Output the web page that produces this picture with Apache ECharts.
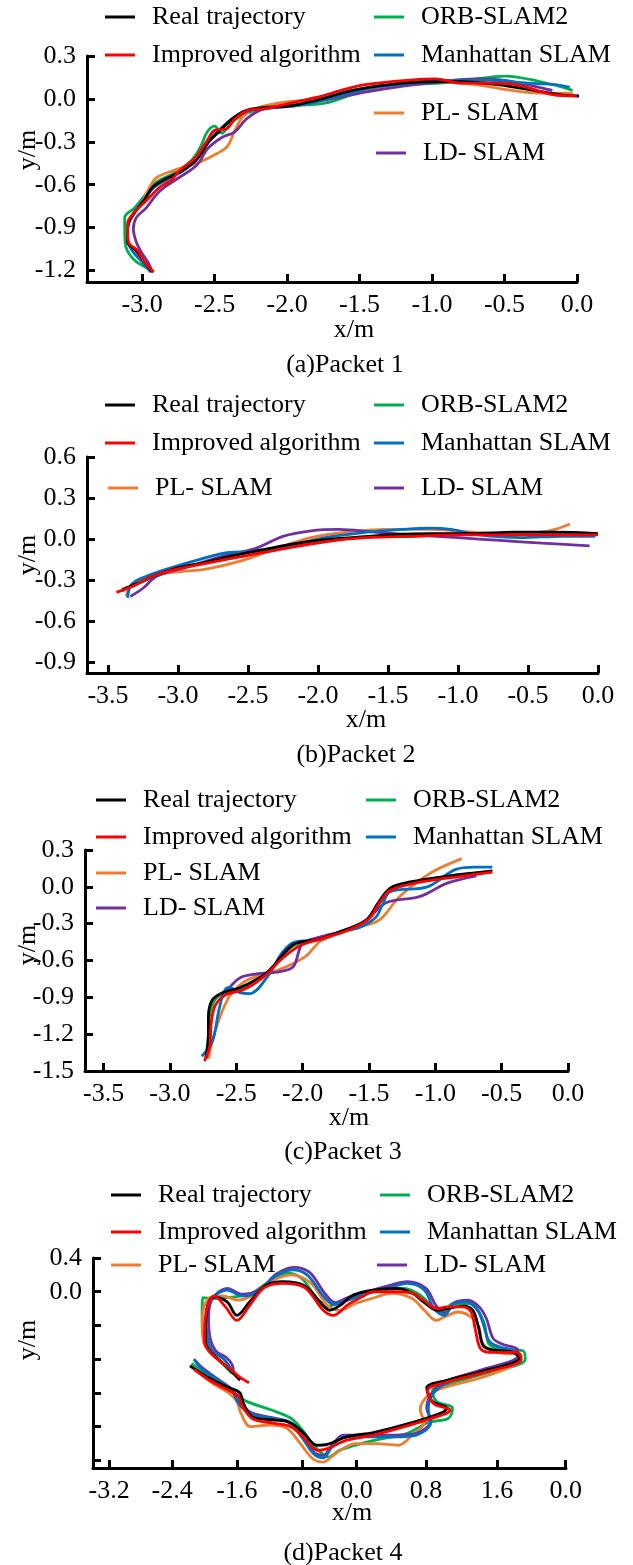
<!DOCTYPE html>
<html>
<head>
<meta charset="utf-8">
<script src="https://cdn.jsdelivr.net/npm/echarts@6.0.0/dist/echarts.min.js"></script>
<style>
  html, body { margin: 0; padding: 0; background: #fff; }
  #chart { width: 633px; height: 1565px; }
</style>
</head>
<body>
<div id="chart"></div>
<script>
// series names and colours
var seriesNames = ['Real trajectory', 'ORB-SLAM2', 'Improved algorithm', 'Manhattan SLAM', 'PL- SLAM', 'LD- SLAM'];
var seriesColors = {
  'Real trajectory': '#000000',
  'ORB-SLAM2': '#00b050',
  'Improved algorithm': '#ff0000',
  'Manhattan SLAM': '#0070c0',
  'PL- SLAM': '#ed7d31',
  'LD- SLAM': '#7030a0'
};

// ---- Packet 1 ----
var real1 = [[-2.93,-1.21],[-2.99,-1.13],[-3.04,-1.06],[-3.10,-1.00],[-3.10,-0.93],[-3.09,-0.86],[-3.04,-0.78],[-2.98,-0.70],[-2.93,-0.62],[-2.84,-0.56],[-2.72,-0.50],[-2.62,-0.42],[-2.54,-0.30],[-2.46,-0.22],[-2.38,-0.14],[-2.28,-0.08],[-2.15,-0.06],[-2.00,-0.05],[-1.80,-0.01],[-1.55,0.06],[-1.30,0.10],[-1.05,0.12],[-0.80,0.12],[-0.55,0.10],[-0.30,0.06],[-0.12,0.03],[0.02,0.02]];
var orb1 = [[-2.92,-1.21],[-2.97,-1.18],[-3.05,-1.13],[-3.11,-1.04],[-3.12,-0.92],[-3.12,-0.83],[-3.05,-0.76],[-2.97,-0.66],[-2.90,-0.58],[-2.78,-0.52],[-2.66,-0.43],[-2.60,-0.34],[-2.55,-0.23],[-2.50,-0.19],[-2.45,-0.24],[-2.38,-0.16],[-2.25,-0.09],[-2.02,-0.05],[-1.74,-0.03],[-1.46,0.06],[-1.17,0.10],[-0.95,0.11],[-0.76,0.13],[-0.50,0.16],[-0.25,0.12],[-0.03,0.06]];
var imp1 = [[-2.92,-1.21],[-2.99,-1.13],[-3.03,-1.06],[-3.09,-1.01],[-3.10,-0.94],[-3.10,-0.87],[-3.05,-0.79],[-2.97,-0.71],[-2.88,-0.62],[-2.80,-0.57],[-2.74,-0.50],[-2.63,-0.41],[-2.55,-0.29],[-2.50,-0.22],[-2.42,-0.21],[-2.36,-0.14],[-2.27,-0.08],[-2.16,-0.07],[-2.02,-0.04],[-1.80,0.01],[-1.59,0.07],[-1.46,0.10],[-1.17,0.13],[-0.98,0.14],[-0.79,0.11],[-0.61,0.11],[-0.42,0.10],[-0.17,0.03],[0.00,0.02]];
var man1 = [[-2.94,-1.21],[-3.00,-1.14],[-3.07,-1.06],[-3.10,-0.98],[-3.10,-0.90],[-3.06,-0.80],[-2.99,-0.71],[-2.92,-0.62],[-2.82,-0.56],[-2.70,-0.49],[-2.60,-0.38],[-2.52,-0.27],[-2.44,-0.19],[-2.36,-0.13],[-2.25,-0.08],[-2.10,-0.06],[-1.90,-0.04],[-1.65,0.02],[-1.40,0.08],[-1.15,0.11],[-0.90,0.13],[-0.60,0.13],[-0.34,0.11],[-0.15,0.10],[-0.05,0.08]];
var pl1 = [[-2.93,-1.21],[-2.99,-1.14],[-3.05,-1.07],[-3.10,-0.99],[-3.10,-0.90],[-3.06,-0.80],[-3.00,-0.72],[-2.95,-0.62],[-2.90,-0.55],[-2.78,-0.50],[-2.60,-0.44],[-2.48,-0.38],[-2.41,-0.33],[-2.36,-0.22],[-2.30,-0.12],[-2.20,-0.06],[-2.00,-0.02],[-1.75,0.00],[-1.50,0.05],[-1.20,0.10],[-0.95,0.12],[-0.70,0.10],[-0.45,0.06],[-0.25,0.04],[-0.03,0.04]];
var ld1 = [[-2.93,-1.21],[-2.96,-1.14],[-3.00,-1.08],[-3.04,-1.00],[-3.06,-0.91],[-3.04,-0.83],[-2.97,-0.76],[-2.91,-0.68],[-2.86,-0.63],[-2.76,-0.56],[-2.62,-0.46],[-2.55,-0.35],[-2.45,-0.27],[-2.36,-0.23],[-2.28,-0.14],[-2.16,-0.07],[-1.95,-0.05],[-1.70,0.00],[-1.45,0.05],[-1.20,0.09],[-0.95,0.12],[-0.70,0.14],[-0.50,0.13],[-0.30,0.09],[-0.17,0.06]];
var xTicks1 = [-3.0, -2.5, -2.0, -1.5, -1.0, -0.5, 0.0];
var yTicks1 = [0.3, 0.0, -0.3, -0.6, -0.9, -1.2];

// ---- Packet 2 ----
var real2 = [[-3.40,-0.37],[-3.30,-0.33],[-3.15,-0.26],[-3.00,-0.21],[-2.80,-0.17],[-2.60,-0.12],[-2.40,-0.08],[-2.20,-0.04],[-2.00,-0.01],[-1.75,0.01],[-1.50,0.03],[-1.20,0.04],[-0.90,0.04],[-0.60,0.05],[-0.30,0.05],[0.00,0.04]];
var orb2 = [[-3.40,-0.38],[-3.30,-0.33],[-3.15,-0.27],[-3.00,-0.22],[-2.80,-0.17],[-2.60,-0.12],[-2.40,-0.08],[-2.20,-0.05],[-2.00,-0.02],[-1.75,0.01],[-1.50,0.02],[-1.20,0.03],[-0.90,0.04],[-0.60,0.04],[-0.30,0.04],[-0.02,0.04]];
var imp2 = [[-3.44,-0.39],[-3.31,-0.34],[-3.20,-0.28],[-3.05,-0.23],[-2.81,-0.18],[-2.50,-0.12],[-2.24,-0.07],[-1.95,-0.02],[-1.66,0.01],[-1.30,0.02],[-1.00,0.03],[-0.60,0.03],[-0.30,0.03],[0.00,0.03]];
var man2 = [[-3.36,-0.43],[-3.33,-0.33],[-3.22,-0.27],[-3.05,-0.21],[-2.85,-0.15],[-2.65,-0.10],[-2.45,-0.09],[-2.20,-0.05],[-1.95,0.01],[-1.65,0.05],[-1.40,0.07],[-1.20,0.08],[-1.05,0.07],[-0.85,0.03],[-0.55,0.01],[-0.25,0.02],[-0.02,0.02]];
var pl2 = [[-3.37,-0.42],[-3.33,-0.33],[-3.20,-0.27],[-3.00,-0.24],[-2.80,-0.22],[-2.55,-0.16],[-2.30,-0.07],[-2.05,0.01],[-1.80,0.05],[-1.50,0.07],[-1.20,0.07],[-0.90,0.05],[-0.60,0.04],[-0.35,0.06],[-0.20,0.11]];
var ld2 = [[-3.34,-0.42],[-3.25,-0.36],[-3.15,-0.27],[-2.95,-0.21],[-2.70,-0.13],[-2.45,-0.07],[-2.25,0.02],[-2.05,0.06],[-1.85,0.07],[-1.60,0.05],[-1.30,0.03],[-1.00,0.01],[-0.70,-0.01],[-0.40,-0.03],[-0.06,-0.05]];
var xTicks2 = [-3.5, -3.0, -2.5, -2.0, -1.5, -1.0, -0.5, 0.0];
var yTicks2 = [0.6, 0.3, 0.0, -0.3, -0.6, -0.9];

// ---- Packet 3 ----
var real3 = [[-2.73,-1.40],[-2.71,-1.22],[-2.71,-1.06],[-2.68,-0.92],[-2.60,-0.86],[-2.47,-0.82],[-2.27,-0.70],[-2.07,-0.47],[-1.89,-0.43],[-1.68,-0.35],[-1.52,-0.27],[-1.43,-0.13],[-1.34,-0.01],[-1.19,0.04],[-0.89,0.09],[-0.57,0.13]];
var orb3 = [[-2.73,-1.40],[-2.71,-1.20],[-2.70,-1.04],[-2.66,-0.92],[-2.58,-0.86],[-2.45,-0.82],[-2.27,-0.70],[-2.07,-0.48],[-1.88,-0.43],[-1.67,-0.35],[-1.51,-0.27],[-1.42,-0.13],[-1.33,-0.02],[-1.15,0.04],[-0.88,0.09],[-0.58,0.12]];
var imp3 = [[-2.74,-1.42],[-2.70,-1.30],[-2.69,-1.12],[-2.66,-0.97],[-2.58,-0.88],[-2.45,-0.84],[-2.30,-0.74],[-2.15,-0.58],[-2.02,-0.48],[-1.85,-0.42],[-1.65,-0.35],[-1.50,-0.26],[-1.42,-0.13],[-1.34,-0.03],[-1.15,0.03],[-0.85,0.08],[-0.57,0.12]];
var man3 = [[-2.76,-1.38],[-2.68,-1.26],[-2.63,-1.00],[-2.59,-0.85],[-2.55,-0.82],[-2.48,-0.86],[-2.40,-0.87],[-2.27,-0.74],[-2.15,-0.53],[-2.06,-0.45],[-1.87,-0.43],[-1.70,-0.36],[-1.57,-0.33],[-1.45,-0.25],[-1.40,-0.15],[-1.34,-0.04],[-1.06,0.00],[-0.85,0.14],[-0.70,0.16],[-0.57,0.16]];
var pl3 = [[-2.71,-1.40],[-2.68,-1.25],[-2.63,-1.08],[-2.58,-0.95],[-2.53,-0.86],[-2.42,-0.76],[-2.27,-0.71],[-2.12,-0.65],[-1.97,-0.56],[-1.86,-0.44],[-1.58,-0.33],[-1.42,-0.27],[-1.27,-0.08],[-1.04,0.11],[-0.80,0.23]];
var ld3 = [[-2.57,-0.87],[-2.55,-0.82],[-2.47,-0.74],[-2.35,-0.71],[-2.17,-0.69],[-2.07,-0.65],[-2.00,-0.46],[-1.87,-0.41],[-1.67,-0.35],[-1.52,-0.27],[-1.37,-0.13],[-1.12,-0.08],[-0.91,0.03],[-0.69,0.09]];
var xTicks3 = [-3.5, -3.0, -2.5, -2.0, -1.5, -1.0, -0.5, 0.0];
var yTicks3 = [0.3, 0.0, -0.3, -0.6, -0.9, -1.2, -1.5];

// ---- Packet 4 ----
var real4 = [[-2.20,-0.88],[-1.99,-1.01],[-1.74,-1.13],[-1.58,-1.20],[-1.54,-1.32],[-1.42,-1.49],[-1.17,-1.52],[-0.96,-1.55],[-0.80,-1.67],[-0.63,-1.82],[-0.50,-1.81],[-0.26,-1.72],[0.07,-1.67],[0.56,-1.55],[0.93,-1.43],[0.98,-1.38],[0.80,-1.30],[0.73,-1.14],[0.98,-1.05],[1.39,-0.95],[1.88,-0.79],[1.80,-0.72],[1.55,-0.69],[1.43,-0.64],[1.37,-0.42],[1.30,-0.22],[1.18,-0.17],[0.98,-0.20],[0.86,-0.22],[0.69,-0.12],[0.56,-0.02],[0.36,0.04],[0.07,0.02],[-0.18,-0.04],[-0.34,-0.16],[-0.47,-0.22],[-0.59,-0.12],[-0.80,0.08],[-1.05,0.12],[-1.25,0.08],[-1.46,-0.12],[-1.62,-0.28],[-1.74,-0.12],[-1.91,-0.06],[-1.99,-0.22],[-2.01,-0.57],[-1.97,-0.69],[-1.79,-0.85],[-1.67,-0.96],[-1.58,-1.05]];
var orb4 = [[-2.18,-0.85],[-2.00,-0.98],[-1.80,-1.10],[-1.62,-1.22],[-1.50,-1.30],[-1.20,-1.40],[-0.95,-1.50],[-0.80,-1.65],[-0.65,-1.84],[-0.48,-1.96],[-0.35,-1.88],[-0.15,-1.82],[0.00,-1.78],[0.20,-1.74],[0.49,-1.68],[0.75,-1.55],[1.00,-1.50],[1.05,-1.38],[0.85,-1.30],[0.80,-1.18],[1.05,-1.08],[1.45,-0.97],[1.95,-0.80],[1.92,-0.70],[1.65,-0.68],[1.50,-0.62],[1.45,-0.40],[1.38,-0.25],[1.25,-0.14],[1.05,-0.14],[0.93,-0.26],[0.80,-0.18],[0.65,-0.04],[0.45,0.04],[0.15,0.02],[-0.15,-0.05],[-0.35,-0.13],[-0.52,-0.18],[-0.65,-0.05],[-0.82,0.16],[-1.00,0.22],[-1.25,0.10],[-1.46,-0.03],[-1.65,-0.06],[-1.90,-0.08],[-2.04,-0.07],[-2.05,-0.30],[-2.02,-0.55],[-1.95,-0.70],[-1.80,-0.85],[-1.68,-0.97]];
var imp4 = [[-2.15,-0.92],[-1.97,-1.04],[-1.74,-1.16],[-1.60,-1.24],[-1.55,-1.36],[-1.42,-1.51],[-1.15,-1.56],[-0.95,-1.60],[-0.80,-1.72],[-0.62,-1.88],[-0.50,-1.86],[-0.26,-1.76],[0.07,-1.70],[0.56,-1.57],[0.98,-1.44],[1.02,-1.40],[0.82,-1.33],[0.74,-1.17],[0.98,-1.07],[1.39,-0.97],[1.90,-0.80],[1.85,-0.72],[1.55,-0.72],[1.40,-0.68],[1.33,-0.44],[1.28,-0.24],[1.17,-0.18],[0.98,-0.18],[0.86,-0.20],[0.69,-0.10],[0.56,-0.02],[0.40,0.00],[0.07,0.00],[-0.05,-0.05],[-0.24,-0.15],[-0.43,-0.28],[-0.55,-0.22],[-0.78,0.05],[-1.05,0.10],[-1.28,0.05],[-1.46,-0.16],[-1.62,-0.34],[-1.76,-0.18],[-1.90,-0.05],[-2.00,-0.25],[-2.02,-0.58],[-1.95,-0.72],[-1.75,-0.88],[-1.60,-1.00],[-1.47,-1.08]];
var man4 = [[-2.15,-0.80],[-2.05,-0.92],[-1.85,-1.05],[-1.68,-1.17],[-1.60,-1.32],[-1.45,-1.45],[-1.20,-1.50],[-0.98,-1.55],[-0.82,-1.72],[-0.67,-1.92],[-0.55,-1.97],[-0.45,-1.85],[-0.30,-1.72],[0.00,-1.72],[0.35,-1.72],[0.60,-1.70],[0.78,-1.55],[0.75,-1.40],[0.80,-1.22],[1.00,-1.07],[1.40,-0.95],[1.88,-0.78],[1.82,-0.70],[1.62,-0.65],[1.50,-0.58],[1.42,-0.35],[1.35,-0.20],[1.22,-0.12],[1.05,-0.15],[0.95,-0.28],[0.82,-0.20],[0.70,0.02],[0.49,0.10],[0.25,0.04],[0.00,-0.02],[-0.25,-0.10],[-0.42,-0.15],[-0.55,-0.05],[-0.75,0.20],[-0.93,0.26],[-1.15,0.18],[-1.35,0.00],[-1.55,-0.05],[-1.74,0.02],[-1.96,-0.12],[-2.00,-0.32],[-1.98,-0.56],[-1.92,-0.70],[-1.78,-0.80],[-1.70,-0.90],[-1.66,-0.98]];
var pl4 = [[-2.12,-0.93],[-1.93,-1.08],[-1.72,-1.20],[-1.62,-1.30],[-1.57,-1.44],[-1.45,-1.60],[-1.20,-1.58],[-1.00,-1.62],[-0.85,-1.78],[-0.68,-1.98],[-0.55,-2.02],[-0.40,-1.92],[-0.15,-1.80],[0.10,-1.80],[0.38,-1.82],[0.55,-1.70],[0.70,-1.55],[0.65,-1.40],[0.76,-1.22],[1.00,-1.12],[1.40,-1.02],[1.85,-0.85],[1.90,-0.75],[1.60,-0.72],[1.43,-0.62],[1.37,-0.40],[1.25,-0.28],[1.12,-0.24],[0.95,-0.30],[0.85,-0.34],[0.70,-0.22],[0.55,-0.08],[0.30,-0.02],[0.05,-0.08],[-0.15,-0.14],[-0.35,-0.22],[-0.50,-0.16],[-0.70,0.10],[-0.95,0.20],[-1.20,0.12],[-1.40,-0.03],[-1.60,-0.10],[-1.80,-0.05],[-1.97,-0.08],[-2.05,-0.35],[-2.03,-0.60],[-1.92,-0.75],[-1.75,-0.88],[-1.62,-0.98]];
var ld4 = [[-2.15,-0.80],[-2.05,-0.90],[-1.85,-1.04],[-1.68,-1.16],[-1.60,-1.30],[-1.45,-1.43],[-1.20,-1.49],[-0.98,-1.54],[-0.82,-1.70],[-0.67,-1.90],[-0.55,-1.94],[-0.45,-1.83],[-0.30,-1.70],[0.00,-1.70],[0.35,-1.70],[0.60,-1.68],[0.78,-1.53],[0.73,-1.38],[0.80,-1.20],[1.00,-1.05],[1.40,-0.93],[1.86,-0.76],[1.85,-0.68],[1.66,-0.62],[1.55,-0.55],[1.47,-0.32],[1.38,-0.18],[1.24,-0.10],[1.07,-0.13],[0.97,-0.25],[0.85,-0.17],[0.72,0.04],[0.49,0.12],[0.25,0.07],[0.00,0.00],[-0.25,-0.07],[-0.40,-0.13],[-0.53,-0.02],[-0.72,0.23],[-0.92,0.29],[-1.13,0.21],[-1.33,0.03],[-1.55,-0.03],[-1.74,0.04],[-1.92,-0.08],[-1.97,-0.30],[-1.95,-0.55],[-1.88,-0.70],[-1.75,-0.78],[-1.68,-0.86],[-1.66,-0.95]];
var xTicks4 = [-3.2, -2.42, -1.62, -0.81, -0.14, 0.72, 1.6, 2.45];
var xLabels4 = ['-3.2', '-2.4', '-1.6', '-0.8', '0.0', '0.8', '1.6', '0.0'];
var yTicks4 = [0.4, 0.0, -0.4, -0.8, -1.2, -1.6, -2.0];
var yLabels4 = ['0.4', '0.0', '', '', '', '', ''];

var captions = ['(a)Packet 1', '(b)Packet 2', '(c)Packet 3', '(d)Packet 4'];

// layout of the four panels (pixels)
var FONT = 'Liberation Serif';
var FS = 26;
var panels = [
  { grid: { left: 87, top: 56, width: 490, height: 226 }, x: [-3.38, 0], y: [-1.28, 0.3],
    xt: xTicks1, yt: yTicks1,
    data: { 'ORB-SLAM2': orb1, 'PL- SLAM': pl1, 'LD- SLAM': ld1, 'Manhattan SLAM': man1, 'Real trajectory': real1, 'Improved algorithm': imp1 },
    legend: [['Real trajectory', 105, 17], ['ORB-SLAM2', 374, 17], ['Improved algorithm', 105, 55], ['Manhattan SLAM', 374, 55], ['PL- SLAM', 374, 113], ['LD- SLAM', 376, 153]],
    ym: 150, xm: [354, 330], cap: [345, 365] },
  { grid: { left: 87, top: 457, width: 511, height: 216 }, x: [-3.65, 0], y: [-0.98, 0.6],
    xt: xTicks2, yt: yTicks2,
    data: { 'ORB-SLAM2': orb2, 'PL- SLAM': pl2, 'LD- SLAM': ld2, 'Manhattan SLAM': man2, 'Real trajectory': real2, 'Improved algorithm': imp2 },
    legend: [['Real trajectory', 105, 405], ['ORB-SLAM2', 374, 405], ['Improved algorithm', 105, 443], ['Manhattan SLAM', 374, 443], ['PL- SLAM', 108, 488], ['LD- SLAM', 374, 488]],
    ym: 555, xm: [366, 720], cap: [356, 755] },
  { grid: { left: 85, top: 850, width: 483, height: 221 }, x: [-3.64, 0], y: [-1.5, 0.3],
    xt: xTicks3, yt: yTicks3,
    data: { 'ORB-SLAM2': orb3, 'PL- SLAM': pl3, 'LD- SLAM': ld3, 'Manhattan SLAM': man3, 'Real trajectory': real3, 'Improved algorithm': imp3 },
    legend: [['Real trajectory', 96, 800], ['ORB-SLAM2', 366, 800], ['Improved algorithm', 96, 837], ['Manhattan SLAM', 366, 837], ['PL- SLAM', 96, 873], ['LD- SLAM', 96, 908]],
    ym: 945, xm: [349, 1118], cap: [343, 1152] },
  { grid: { left: 93, top: 1258, width: 473, height: 210 }, x: [-3.40, 2.454], y: [-2.09, 0.4],
    xt: xTicks4, yt: yTicks4, xl: xLabels4, yl: yLabels4,
    data: { 'ORB-SLAM2': orb4, 'PL- SLAM': pl4, 'LD- SLAM': ld4, 'Manhattan SLAM': man4, 'Real trajectory': real4, 'Improved algorithm': imp4 },
    legend: [['Real trajectory', 111, 1195], ['ORB-SLAM2', 380, 1195], ['Improved algorithm', 111, 1232], ['Manhattan SLAM', 380, 1232], ['PL- SLAM', 111, 1265], ['LD- SLAM', 377, 1265]],
    ym: 1340, xm: [352, 1513], cap: [343, 1553] }
];

function tickFormatter(ticks, labels) {
  return function (v) {
    var best = 0;
    for (var i = 1; i < ticks.length; i++) {
      if (Math.abs(ticks[i] - v) < Math.abs(ticks[best] - v)) best = i;
    }
    return labels ? labels[best] : ticks[best].toFixed(1);
  };
}

function axisCommon(ticks, labels, isX) {
  return {
    type: 'value',
    axisLine: { show: true, onZero: false, lineStyle: { color: '#000', width: 3 } },
    axisTick: { show: true, inside: true, length: 8, customValues: ticks, lineStyle: { color: '#000', width: 3 } },
    axisLabel: {
      customValues: ticks, formatter: tickFormatter(ticks, labels),
      fontFamily: FONT, fontSize: FS, color: '#000', margin: isX ? 10 : 11
    },
    splitLine: { show: false }
  };
}

var grids = [], xAxes = [], yAxes = [], series = [], legends = [], graphics = [];
var drawOrder = ['ORB-SLAM2', 'PL- SLAM', 'LD- SLAM', 'Manhattan SLAM', 'Real trajectory', 'Improved algorithm'];

panels.forEach(function (p, i) {
  grids.push(p.grid);
  var xa = axisCommon(p.xt, p.xl, true);
  xa.gridIndex = i; xa.min = p.x[0]; xa.max = p.x[1];
  xAxes.push(xa);
  var ya = axisCommon(p.yt, p.yl, false);
  ya.gridIndex = i; ya.min = p.y[0]; ya.max = p.y[1];
  yAxes.push(ya);

  drawOrder.forEach(function (name) {
    series.push({
      type: 'line', name: name, xAxisIndex: i, yAxisIndex: i,
      data: p.data[name], showSymbol: false, symbol: 'none', smooth: 0.35,
      lineStyle: { width: 2.8, color: seriesColors[name] },
      itemStyle: { color: seriesColors[name] },
      emphasis: { disabled: true }
    });
  });

  p.legend.forEach(function (l) {
    legends.push({
      data: [l[0]], left: l[1], top: l[2] - 13, padding: 0,
      icon: 'rect', itemWidth: 30, itemHeight: 3, selectedMode: false,
      textStyle: { fontFamily: FONT, fontSize: FS, color: '#000', lineHeight: 26, padding: [0, 0, 0, 12] }
    });
  });

  var font = FS + 'px "' + FONT + '"';
  graphics.push({
    type: 'text', x: 28, y: p.ym, rotation: Math.PI / 2,
    style: { text: 'y/m', font: font, fill: '#000', textAlign: 'center', textVerticalAlign: 'middle' }
  });
  graphics.push({
    type: 'text', x: p.xm[0], y: p.xm[1],
    style: { text: 'x/m', font: font, fill: '#000', textAlign: 'center', textVerticalAlign: 'middle' }
  });
  graphics.push({
    type: 'text', x: p.cap[0], y: p.cap[1],
    style: { text: captions[i], font: font, fill: '#000', textAlign: 'center', textVerticalAlign: 'middle' }
  });
});

var chart = echarts.init(document.getElementById('chart'));
chart.setOption({
  animation: false,
  backgroundColor: '#fff',
  grid: grids,
  xAxis: xAxes,
  yAxis: yAxes,
  legend: legends,
  series: series,
  graphic: graphics
});
</script>
</body>
</html>
